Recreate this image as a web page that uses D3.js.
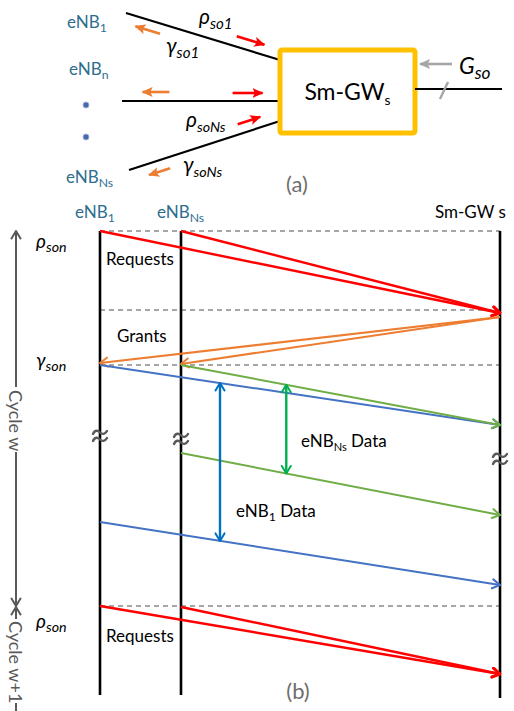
<!DOCTYPE html>
<html>
<head>
<meta charset="utf-8">
<script src="https://cdn.jsdelivr.net/npm/d3@7"></script>
<style>
  body { margin: 0; background: #fff; }
  svg { display: block; }
</style>
</head>
<body>
<div id="chart"></div>
<script>
// ---------- data: (a) topology ----------
const boxRect = [280, 50, 415, 133];               // Sm-GW box x0,y0,x1,y1
const linkStart = [[126, 13], [122, 101], [129, 170]];
const linkPortY = [60, 101, 121];
// short arrows along each link: link index, start/end fraction, side offset
const reqArrows = [[0, 0.70, 0.88, -10], [1, 0.70, 0.89, -8], [2, 0.74, 0.89, -10]];
const grantArrows = [[0, 0.24, 0.08, 10], [1, 0.30, 0.13, -9], [2, 0.25, 0.11, 11]];
const dotY = [105, 137];

// ---------- data: (b) timing ----------
const lanes = ["eNB1", "eNBNs", "SmGW"];
const laneX = [100, 181, 500];
const laneEnd = [464, 464, 467];
const dashTimes = [0, 79, 134, 375];
const requests = [["eNB1", 0, "SmGW", 82], ["eNBNs", 0, "SmGW", 82],
                  ["eNB1", 375, "SmGW", 443], ["eNBNs", 376, "SmGW", 443]];
const grants = [["SmGW", 86, "eNB1", 132], ["SmGW", 86, "eNBNs", 133]];
const data1 = [["eNB1", 134, "SmGW", 194], ["eNB1", 291, "SmGW", 354]];
const dataNs = [["eNBNs", 134, "SmGW", 194], ["eNBNs", 222, "SmGW", 284]];
const breaks = [["eNB1", 205], ["eNBNs", 208], ["SmGW", 228]];
const spanFrac = [0.30, 0.33];   // where the duration arrows sit along data1 / dataNs
const cycleLabels = ["Cycle w", "Cycle w+1"];

const W = 514, H = 711;
const C = { red: "#FF0000", orange: "#ED7D31", blue: "#4472C4", green: "#70AD47",
            blueDim: "#0070C0", greenDim: "#00B050", gray: "#A6A6A6", dark: "#595959",
            gold: "#FFC000", enb: "#2E6E8E" };

const x = d3.scaleOrdinal().domain(lanes).range(laneX);
const y = d3.scaleLinear().domain([0, 470]).range([231, 701]);

const svg = d3.select("#chart").append("svg")
  .attr("width", W).attr("height", H)
  .style("font-family", "Lato, 'Open Sans', sans-serif");
const defs = svg.append("defs");

function openHead(id, color, sw) {
  defs.append("marker").attr("id", id)
    .attr("viewBox", "0 0 12 12").attr("refX", 10.5).attr("refY", 6)
    .attr("markerWidth", 12).attr("markerHeight", 12)
    .attr("markerUnits", "userSpaceOnUse").attr("orient", "auto-start-reverse")
    .append("path").attr("d", "M3,1.5 L10.5,6 L3,10.5")
    .attr("fill", "none").attr("stroke", color).attr("stroke-width", sw)
    .attr("stroke-linecap", "round").attr("stroke-linejoin", "round");
}
function solidHead(id, color) {
  defs.append("marker").attr("id", id)
    .attr("viewBox", "0 0 12 12").attr("refX", 11).attr("refY", 6)
    .attr("markerWidth", 11).attr("markerHeight", 11)
    .attr("markerUnits", "userSpaceOnUse").attr("orient", "auto")
    .append("path").attr("d", "M0,0.5 L12,6 L0,11.5 L2.5,6 Z").attr("fill", color);
}
openHead("hRed", C.red, 2.8);
openHead("hOrange", C.orange, 2);
openHead("hBlue", C.blue, 2);
openHead("hGreen", C.green, 2);
openHead("hBlueDim", C.blueDim, 2);
openHead("hGreenDim", C.greenDim, 2);
openHead("hAxis", C.dark, 2);
solidHead("sRed", C.red);
solidHead("sOrange", C.orange);
solidHead("sGray", C.gray);

// text with subscripts: parts = [{t, sub}]
function label(g, px, py, parts, o) {
  const size = o.size;
  const t = g.append("text").attr("x", px).attr("y", py)
    .attr("font-size", size).attr("fill", o.color || "#000")
    .attr("font-style", o.italic ? "italic" : null)
    .attr("text-anchor", o.anchor || "start");
  let down = false;
  parts.forEach(p => {
    const ts = t.append("tspan").text(p.t);
    if (p.sub) {
      ts.attr("font-size", size * (o.subScale || 0.65));
      if (!down) { ts.attr("dy", size * 0.22); down = true; }
    } else if (down) { ts.attr("dy", -size * 0.22); down = false; }
  });
  return t;
}

// ================= (a) =================
const ga = svg.append("g");
const port = i => [boxRect[0], linkPortY[i]];

linkStart.forEach((s, i) => {
  const e = port(i);
  ga.append("line").attr("x1", s[0]).attr("y1", s[1]).attr("x2", e[0]).attr("y2", e[1])
    .attr("stroke", "#000").attr("stroke-width", 2.2);
});

function along(i, f, off) {
  const s = linkStart[i], e = port(i);
  const dx = e[0] - s[0], dy = e[1] - s[1], len = Math.hypot(dx, dy);
  return [s[0] + f * dx - off * dy / len, s[1] + f * dy + off * dx / len];
}
function shortArrows(list, color, mk) {
  list.forEach(([i, f0, f1, off]) => {
    const a = along(i, f0, off), b = along(i, f1, off);
    ga.append("line").attr("x1", a[0]).attr("y1", a[1]).attr("x2", b[0]).attr("y2", b[1])
      .attr("stroke", color).attr("stroke-width", 2.6).attr("marker-end", `url(#${mk})`);
  });
}
shortArrows(reqArrows, C.red, "sRed");
shortArrows(grantArrows, C.orange, "sOrange");

ga.append("rect")
  .attr("x", boxRect[0]).attr("y", boxRect[1])
  .attr("width", boxRect[2] - boxRect[0]).attr("height", boxRect[3] - boxRect[1])
  .attr("fill", "#fff").attr("stroke", C.gold).attr("stroke-width", 5).attr("rx", 2);
label(ga, (boxRect[0] + boxRect[2]) / 2, 100, [{ t: "Sm-GW" }, { t: "s", sub: true }],
  { size: 23, anchor: "middle", subScale: 0.6 });

// backhaul
ga.append("line").attr("x1", boxRect[2]).attr("y1", 89).attr("x2", 502).attr("y2", 89)
  .attr("stroke", "#000").attr("stroke-width", 2.2);
ga.append("line").attr("x1", 440).attr("y1", 99).attr("x2", 448).attr("y2", 82)
  .attr("stroke", C.gray).attr("stroke-width", 2.4);
ga.append("line").attr("x1", 452).attr("y1", 64).attr("x2", 420).attr("y2", 64)
  .attr("stroke", C.gray).attr("stroke-width", 2.6).attr("marker-end", "url(#sGray)");
label(ga, 459, 74, [{ t: "G" }, { t: "so", sub: true }], { size: 23, italic: true, subScale: 0.75 });

// eNB labels
label(ga, 67, 28, [{ t: "eNB" }, { t: "1", sub: true }], { size: 17, color: C.enb, subScale: 0.72 });
label(ga, 69, 75, [{ t: "eNB" }, { t: "n", sub: true }], { size: 17, color: C.enb, subScale: 0.72 });
label(ga, 66, 183, [{ t: "eNB" }, { t: "Ns", sub: true }], { size: 17, color: C.enb, subScale: 0.72 });
dotY.forEach(d => ga.append("circle").attr("cx", 86).attr("cy", d).attr("r", 3)
  .attr("fill", "#4A67A8").attr("stroke", "#9FB0D6").attr("stroke-width", 1));

// link labels
label(ga, 199, 24, [{ t: "ρ" }, { t: "so1", sub: true }], { size: 21, italic: true, subScale: 0.72 });
label(ga, 166, 53, [{ t: "γ" }, { t: "so1", sub: true }], { size: 21, italic: true, subScale: 0.72 });
label(ga, 186, 127, [{ t: "ρ" }, { t: "soNs", sub: true }], { size: 21, italic: true, subScale: 0.68 });
label(ga, 183, 172, [{ t: "γ" }, { t: "soNs", sub: true }], { size: 21, italic: true, subScale: 0.68 });

ga.append("text").attr("x", 297).attr("y", 192).attr("text-anchor", "middle")
  .attr("font-size", 22).attr("fill", "#6E6E6E").text("(a)");

// ================= (b) =================
const gb = svg.append("g");

dashTimes.forEach(t => {
  gb.append("line").attr("x1", x("eNB1")).attr("x2", x("SmGW"))
    .attr("y1", y(t)).attr("y2", y(t))
    .attr("stroke", C.gray).attr("stroke-width", 2.2).attr("stroke-dasharray", "5,4");
});

lanes.forEach((l, i) => {
  gb.append("line").attr("x1", x(l)).attr("x2", x(l))
    .attr("y1", y(0)).attr("y2", y(laneEnd[i]))
    .attr("stroke", "#000").attr("stroke-width", 2.6);
});

function messages(list, color, mk, sw) {
  gb.selectAll(null).data(list).enter().append("line")
    .attr("x1", d => x(d[0])).attr("y1", d => y(d[1]))
    .attr("x2", d => x(d[2])).attr("y2", d => y(d[3]))
    .attr("stroke", color).attr("stroke-width", sw)
    .attr("marker-end", `url(#${mk})`);
}
messages(requests, C.red, "hRed", 2.4);
messages(grants, C.orange, "hOrange", 2.2);
messages(data1, C.blue, "hBlue", 2);
messages(dataNs, C.green, "hGreen", 2);

// break marks: two small tildes across the lifeline
const tilde = "M-7,1.5 C-5,-3 -2,-2 0,0 S5,2 7,-1.5";
breaks.forEach(([l, t]) => {
  [-3.5, 3.5].forEach(off => {
    gb.append("path").attr("d", tilde)
      .attr("transform", `translate(${x(l)},${y(t) + off})`)
      .attr("fill", "none").attr("stroke", C.dark).attr("stroke-width", 2.4)
      .attr("stroke-linecap", "round");
  });
});

// duration arrows between consecutive data messages
function spanArrow(list, frac, color, mk) {
  const a = list[0], b = list[1];
  const px = x(a[0]) + frac * (x(a[2]) - x(a[0]));
  const ya = y(a[1]) + frac * (y(a[3]) - y(a[1]));
  const yb = y(b[1]) + frac * (y(b[3]) - y(b[1]));
  gb.append("line").attr("x1", px).attr("x2", px).attr("y1", ya).attr("y2", yb)
    .attr("stroke", color).attr("stroke-width", 2.4)
    .attr("marker-start", `url(#${mk})`).attr("marker-end", `url(#${mk})`);
}
spanArrow(data1, spanFrac[0], C.blueDim, "hBlueDim");
spanArrow(dataNs, spanFrac[1], C.greenDim, "hGreenDim");

// lane headers
label(gb, 75, 218, [{ t: "eNB" }, { t: "1", sub: true }], { size: 17, color: C.enb, subScale: 0.72 });
label(gb, 157, 218, [{ t: "eNB" }, { t: "Ns", sub: true }], { size: 17, color: C.enb, subScale: 0.72 });
gb.append("text").attr("x", 435).attr("y", 218).attr("font-size", 17).text("Sm-GW s");

// phase labels
label(gb, 36, 248, [{ t: "ρ" }, { t: "son", sub: true }], { size: 19, italic: true, subScale: 0.75 });
label(gb, 36, 367, [{ t: "γ" }, { t: "son", sub: true }], { size: 19, italic: true, subScale: 0.75 });
label(gb, 36, 628, [{ t: "ρ" }, { t: "son", sub: true }], { size: 19, italic: true, subScale: 0.75 });
gb.append("text").attr("x", 106).attr("y", 265).attr("font-size", 17).text("Requests");
gb.append("text").attr("x", 117).attr("y", 342).attr("font-size", 17).text("Grants");
gb.append("text").attr("x", 106).attr("y", 642).attr("font-size", 17).text("Requests");
label(gb, 301, 447, [{ t: "eNB" }, { t: "Ns", sub: true }, { t: " Data" }], { size: 17 });
label(gb, 236, 517, [{ t: "eNB" }, { t: "1", sub: true }, { t: " Data" }], { size: 17, subScale: 0.72 });

gb.append("text").attr("x", 298).attr("y", 699).attr("text-anchor", "middle")
  .attr("font-size", 22).attr("fill", "#6E6E6E").text("(b)");

// cycle axis
const ax = 16;
const axisSegs = [[156, 0], [221, 375], [388, 376]];
axisSegs.forEach(([t0, t1]) => {
  gb.append("line").attr("x1", ax).attr("x2", ax).attr("y1", y(t0)).attr("y2", y(t1))
    .attr("stroke", C.dark).attr("stroke-width", 2).attr("marker-end", "url(#hAxis)");
});
gb.append("line").attr("x1", ax).attr("x2", ax).attr("y1", y(472)).attr("y2", y(480))
  .attr("stroke", C.dark).attr("stroke-width", 2);
[[159, cycleLabels[0]], [390, cycleLabels[1]]].forEach(([t, s]) => {
  gb.append("text").attr("transform", `translate(${ax},${y(t)}) rotate(90)`)
    .attr("dominant-baseline", "central").attr("font-size", 18).attr("fill", C.dark).text(s);
});
</script>
</body>
</html>
